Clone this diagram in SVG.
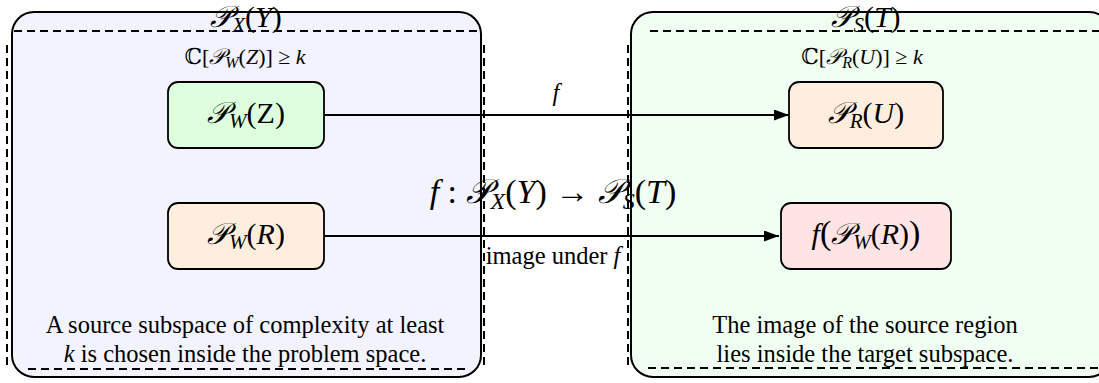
<svg xmlns="http://www.w3.org/2000/svg" width="1099" height="383" viewBox="0 0 1099 383">
<defs>
<style>
.outer{stroke:#000;stroke-width:2}
.dash{fill:none;stroke:#000;stroke-width:2;stroke-dasharray:8,5}
.node{stroke:#000;stroke-width:1.8}
.conn{stroke:#000;stroke-width:1.8;fill:none}
text{font-family:"Liberation Serif","DejaVu Serif",serif;fill:#000}
.m{font-style:italic}
.up{font-style:normal}
</style>
<marker id="ah" markerUnits="userSpaceOnUse" markerWidth="15" markerHeight="11" refX="15" refY="5.5" orient="auto">
<path d="M0,0 L15,5.5 L0,11 z" fill="#000"/>
</marker>
</defs>
<rect width="1099" height="383" fill="#fff"/>
<g id="source-space">
<rect class="outer" x="12" y="12" width="469" height="365" rx="22" fill="#f3f3ff"/>
<path class="dash" d="M14,31 H480 M7,45 V365 M484,45 V365 M28,369 H468"/>
<text x="246" y="27" font-size="30" text-anchor="middle"><tspan class="m">𝒫</tspan><tspan class="m" font-size="21" dy="5">X</tspan><tspan class="up" dy="-5">(</tspan><tspan class="m">Y</tspan><tspan class="up">)</tspan></text>
<text x="245" y="64" font-size="22" text-anchor="middle">ℂ[<tspan class="m">𝒫</tspan><tspan class="m" font-size="16" dy="4">W</tspan><tspan dy="-4">(</tspan><tspan class="m">Z</tspan>)] ≥ <tspan class="m">k</tspan></text>
<text x="245" y="333" font-size="24.5" text-anchor="middle">A source subspace of complexity at least</text>
<text x="245" y="362" font-size="24.5" text-anchor="middle"><tspan class="m">k</tspan> is chosen inside the problem space.</text>
</g>
<g id="target-space">
<rect class="outer" x="631" y="12" width="480" height="365" rx="22" fill="#f1fff3"/>
<path class="dash" d="M650,31 H1099 M628,45 V365 M648,368 H1099"/>
<text x="866" y="27" font-size="30" text-anchor="middle"><tspan class="m">𝒫</tspan><tspan class="m" font-size="21" dy="5">S</tspan><tspan class="up" dy="-5">(</tspan><tspan class="m">T</tspan><tspan class="up">)</tspan></text>
<text x="862" y="64" font-size="22" text-anchor="middle">ℂ[<tspan class="m">𝒫</tspan><tspan class="m" font-size="16" dy="4">R</tspan><tspan dy="-4">(</tspan><tspan class="m">U</tspan>)] ≥ <tspan class="m">k</tspan></text>
<text x="865" y="333" font-size="24.5" text-anchor="middle">The image of the source region</text>
<text x="865" y="362" font-size="24.5" text-anchor="middle">lies inside the target subspace.</text>
</g>
<g id="PWZ">
<rect class="node" x="168" y="82" width="156" height="66" rx="10" fill="#ddffdd"/>
<text x="246" y="123" font-size="30" text-anchor="middle"><tspan class="m">𝒫</tspan><tspan class="m" font-size="21" dy="5">W</tspan><tspan dy="-5">(</tspan>Z)</text>
</g>
<g id="PWR">
<rect class="node" x="168" y="203" width="156" height="66" rx="10" fill="#ffeedd"/>
<text x="246" y="244" font-size="30" text-anchor="middle"><tspan class="m">𝒫</tspan><tspan class="m" font-size="21" dy="5">W</tspan><tspan dy="-5">(</tspan><tspan class="m">R</tspan>)</text>
</g>
<g id="PRU">
<rect class="node" x="789" y="82" width="154" height="66" rx="10" fill="#ffeedd"/>
<text x="866" y="123" font-size="30" text-anchor="middle"><tspan class="m">𝒫</tspan><tspan class="m" font-size="21" dy="5">R</tspan><tspan dy="-5">(</tspan><tspan class="m">U</tspan>)</text>
</g>
<g id="fPWR">
<rect class="node" x="781" y="203" width="170" height="66" rx="10" fill="#ffe4e4"/>
<text x="866" y="244" font-size="30" text-anchor="middle"><tspan class="m">f</tspan><tspan font-size="34">(</tspan><tspan class="m">𝒫</tspan><tspan class="m" font-size="21" dy="5">W</tspan><tspan dy="-5">(</tspan><tspan class="m">R</tspan>)<tspan font-size="34">)</tspan></text>
</g>
<g id="connectors">
<line class="conn" x1="324" y1="115" x2="789" y2="115" marker-end="url(#ah)"/>
<line class="conn" x1="324" y1="236" x2="779" y2="236" marker-end="url(#ah)"/>
<text x="556" y="101" font-size="24.5" text-anchor="middle" class="m">f</text>
<text x="553" y="264" font-size="24.5" text-anchor="middle">image under <tspan class="m">f</tspan></text>
</g>
<g id="map-label">
<text x="553" y="203" font-size="34" text-anchor="middle"><tspan class="m">f</tspan> : <tspan class="m">𝒫</tspan><tspan class="m" font-size="24" dy="6">X</tspan><tspan dy="-6">(</tspan><tspan class="m">Y</tspan>) → <tspan class="m">𝒫</tspan><tspan class="m" font-size="24" dy="6">S</tspan><tspan dy="-6">(</tspan><tspan class="m">T</tspan>)</text>
</g>
</svg>
